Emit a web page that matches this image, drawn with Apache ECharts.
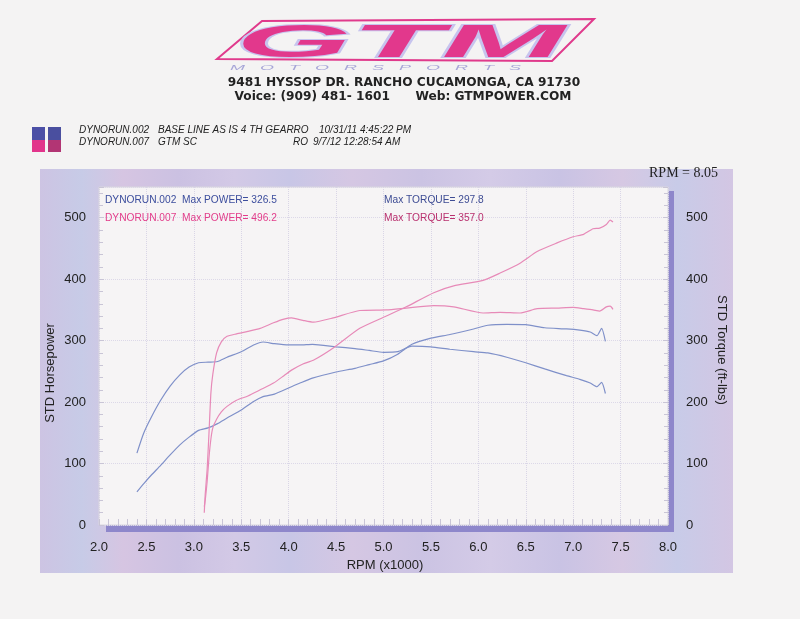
<!DOCTYPE html>
<html><head><meta charset="utf-8">
<script src="https://cdn.jsdelivr.net/npm/echarts@6/dist/echarts.min.js"></script>
<style>html,body{margin:0;padding:0;background:#f4f3f3;}#c{width:800px;height:619px;}</style>
</head><body><div id="c"></div>
<script>
// Run DYNORUN.002 (blue)
const rpm002 = [2.40,2.47,2.55,2.65,2.75,2.85,2.95,3.05,3.15,3.25,3.35,3.50,3.63,3.73,3.85,4.00,4.12,4.25,4.50,4.70,4.85,5.00,5.15,5.30,5.50,5.70,5.95,6.10,6.30,6.50,6.70,6.93,7.07,7.18,7.25,7.30,7.34];
const hp002  = [54,67,81,97,114,130,143,154,158,165,174,187,201,209,213,223,231,239,249,255,261,267,278,294,304,310,319,325,326.5,326,321,319,317,314,308,320,299];
const tq002  = [117,149,175,203,226,244,257,264,265,266,273,282,293,297.8,295,293,293,294,290,287,284,281,282,291,290,286,282,280,273,264,254,243,237,231,225,232,214];
// Run DYNORUN.007 (pink)
const rpm007 = [3.11,3.12,3.14,3.16,3.18,3.20,3.24,3.29,3.35,3.45,3.57,3.70,3.84,3.95,4.03,4.15,4.26,4.47,4.75,5.03,5.24,5.53,5.74,6.05,6.23,6.44,6.62,6.83,7.00,7.11,7.21,7.28,7.35,7.39,7.42];
const hp007  = [30,40,70,110,140,158,172,184,193,203,210,220,231,243,252,262,268,288,320,340,355,378,389,398,410,426,445,459,469,473,482,483,489,496.2,493];
const tq007  = [20,50,90,150,215,245,280,298,307,311,315,320,329,335,337,333,330,337,349,350,353,357,355,345,346,345,352,353,354,352,350,348,355,356,351];
const xTickLabels = ['2.0','2.5','3.0','3.5','4.0','4.5','5.0','5.5','6.0','6.5','7.0','7.5','8.0'];
const yTickLabels = ['0','100','200','300','400','500'];

const chart = echarts.init(document.getElementById('c'), null, {renderer:'canvas'});
const pair = (xs, ys) => xs.map((x,i)=>[x, ys[i]]);
const BLUE = '#7f90c9', PINK = '#e78ab8';
const panelGrad = new echarts.graphic.LinearGradient(0,0,1,0,[
 {offset:0,color:'#cdc4e3'},{offset:0.06,color:'#c7cbe7'},{offset:0.12,color:'#d6c5e2'},
 {offset:0.2,color:'#cbc1e2'},{offset:0.28,color:'#d3c9e6'},{offset:0.36,color:'#c8c6e6'},
 {offset:0.45,color:'#d5c7e3'},{offset:0.55,color:'#cbc3e3'},{offset:0.65,color:'#d4cbe7'},
 {offset:0.75,color:'#c9c3e4'},{offset:0.84,color:'#d6c8e3'},{offset:0.92,color:'#c8cbe8'},{offset:1,color:'#d3c6e3'}]);
const txt = (x,y,t,o) => Object.assign({type:'text', x:x, y:y, z:50, style:Object.assign({text:t, fill:'#222', font:'13px "Liberation Sans", Arial, sans-serif', textVerticalAlign:'middle'}, o||{})});
const hdr = 'italic 10px "Liberation Sans", Arial, sans-serif';
const leg = '10.2px "Liberation Sans", Arial, sans-serif';
const lineSeries = (name, axis, xs, ys, color) => ({name:name, type:'line', yAxisIndex:axis, data:pair(xs,ys), showSymbol:false, smooth:0.2, lineStyle:{color:color, width:1.2}});

chart.setOption({
  animation:false,
  backgroundColor:'#f4f3f3',
  grid:{left:99, right:132, top:187, bottom:94, show:false},
  xAxis:{type:'value', min:2, max:8, interval:0.5,
    axisLine:{show:false},
    axisTick:{show:true, inside:true, length:6, lineStyle:{color:'#c9c5d6'}},
    minorTick:{show:true, splitNumber:5, length:6, lineStyle:{color:'#c9c5d6'}},
    splitLine:{show:true, lineStyle:{color:'#d9d5e6', type:'dotted', width:1}},
    axisLabel:{margin:16, fontSize:13, color:'#222', fontFamily:'"Liberation Sans", Arial, sans-serif', formatter:v=>v.toFixed(1)}},
  yAxis:[
    {type:'value', min:0, max:550, interval:100, position:'left',
     axisLine:{show:false},
     axisTick:{show:true, inside:true, length:5, lineStyle:{color:'#c9c5d6'}},
     minorTick:{show:true, splitNumber:5, length:4, lineStyle:{color:'#c9c5d6'}},
     splitLine:{show:true, lineStyle:{color:'#dcd8e8', type:'dotted'}},
     axisLabel:{margin:13, fontSize:13, color:'#222', fontFamily:'"Liberation Sans", Arial, sans-serif', formatter:v=> v>500?'':String(v)}},
    {type:'value', min:0, max:550, interval:100, position:'right',
     axisLine:{show:false},
     axisTick:{show:true, inside:true, length:5, lineStyle:{color:'#c9c5d6'}},
     minorTick:{show:true, splitNumber:5, length:4, lineStyle:{color:'#c9c5d6'}},
     splitLine:{show:false},
     axisLabel:{margin:18, fontSize:13, color:'#222', fontFamily:'"Liberation Sans", Arial, sans-serif', formatter:v=> v>500?'':String(v)}}
  ],
  series:[
    lineSeries('002 HP',0,rpm002,hp002,BLUE),
    lineSeries('002 TQ',1,rpm002,tq002,BLUE),
    lineSeries('007 HP',0,rpm007,hp007,PINK),
    lineSeries('007 TQ',1,rpm007,tq007,PINK)
  ],
  graphic:[
    // panel + plot box
    {type:'rect', z:-30, shape:{x:40,y:169,width:693,height:404}, style:{fill:panelGrad}},
    {type:'rect', z:-25, shape:{x:106,y:191,width:568,height:341}, style:{fill:'#8e87cb'}},
    {type:'rect', z:-20, shape:{x:99,y:187,width:569,height:338}, style:{fill:'#f6f4f5', stroke:'#d8d6de', lineWidth:1}},
    // logo
    {type:'polygon', z:5, shape:{points:[[217,59],[262,21],[594,19],[552,61]]}, style:{fill:'none', stroke:'#e03a8c', lineWidth:2}},
    {type:'text', z:6, x:236, y:21, scaleX:3.15, scaleY:1, style:{text:'GTM', font:'italic 900 47px "Liberation Sans", Arial, sans-serif', fill:'#e2388c', stroke:'#c7c4ee', lineWidth:2, textVerticalAlign:'top'}},
    {type:'text', z:6, x:230, y:68, scaleX:2.25, scaleY:1, style:{text:'M   O   T   O   R   S   P   O   R   T   S', font:'italic 8px "Liberation Sans", Arial, sans-serif', fill:'#a7a6d8', textVerticalAlign:'middle'}},
    txt(404,83,'9481 HYSSOP DR. RANCHO CUCAMONGA, CA 91730',{font:'bold 12.2px "DejaVu Sans", sans-serif', fill:'#222', textAlign:'center'}),
    txt(403,97,'Voice: (909) 481- 1601      Web: GTMPOWER.COM',{font:'bold 12.2px "DejaVu Sans", sans-serif', fill:'#222', textAlign:'center'}),
    // run squares
    {type:'rect', z:5, shape:{x:32,y:127,width:13,height:13}, style:{fill:'#4b4fa6'}},
    {type:'rect', z:5, shape:{x:32,y:140,width:13,height:12}, style:{fill:'#e2348b'}},
    {type:'rect', z:5, shape:{x:48,y:127,width:13,height:13}, style:{fill:'#4a4f9f'}},
    {type:'rect', z:5, shape:{x:48,y:140,width:13,height:12}, style:{fill:'#b23574'}},
    txt(79,130,'DYNORUN.002',{font:hdr}), txt(158,130,'BASE LINE AS IS 4 TH GEARRO',{font:hdr}), txt(319,130,'10/31/11 4:45:22 PM',{font:hdr}),
    txt(79,142,'DYNORUN.007',{font:hdr}), txt(158,142,'GTM SC',{font:hdr}), txt(293,142,'RO',{font:hdr}), txt(313,142,'9/7/12 12:28:54 AM',{font:hdr}),
    // top right
    txt(718,173,'RPM = 8.05',{font:'14px "Liberation Serif", "Times New Roman", serif', fill:'#222', textAlign:'right'}),
    // in-plot legend
    txt(105,200,'DYNORUN.002',{font:leg, fill:'#3c4d9d'}), txt(182,200,'Max POWER= 326.5',{font:leg, fill:'#3c4d9d'}),
    txt(105,218,'DYNORUN.007',{font:leg, fill:'#e23d8a'}), txt(182,218,'Max POWER= 496.2',{font:leg, fill:'#e23d8a'}),
    txt(384,200,'Max TORQUE= 297.8',{font:leg, fill:'#3e4c94'}), txt(384,218,'Max TORQUE= 357.0',{font:leg, fill:'#b9306e'}),
    // axis names
    {type:'text', z:50, x:50, y:373, rotation:Math.PI/2, style:{text:'STD Horsepower', font:'13px "Liberation Sans", Arial, sans-serif', fill:'#222', textAlign:'center', textVerticalAlign:'middle'}},
    {type:'text', z:50, x:722, y:350, rotation:-Math.PI/2, style:{text:'STD Torque (ft-lbs)', font:'13px "Liberation Sans", Arial, sans-serif', fill:'#222', textAlign:'center', textVerticalAlign:'middle'}},
    txt(385,565,'RPM (x1000)',{textAlign:'center'})
  ]
});
</script></body></html>
